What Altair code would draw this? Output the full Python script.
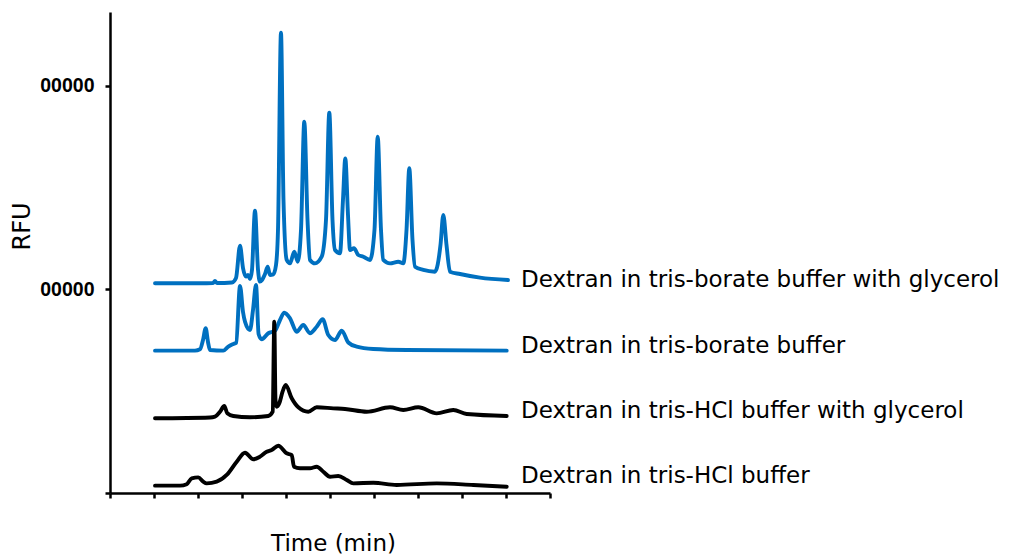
import altair as alt
import pandas as pd

# Electropherograms of dextran in four buffer systems, stacked with vertical offsets.
# time in minutes, signal in millions of RFU (offset included)

borate_gly_t = [1.023, 2.045, 2.341, 2.386, 2.432, 2.773, 2.864, 2.955, 3.023, 3.091,
                3.136, 3.182, 3.227, 3.295, 3.364, 3.409, 3.455, 3.523, 3.584, 3.636,
                3.711, 3.773, 3.818, 3.886, 3.943, 4.016, 4.091, 4.189, 4.266, 4.341,
                4.416, 4.489, 4.545, 4.659, 4.811, 4.909, 4.984, 5.057, 5.114, 5.227,
                5.295, 5.348, 5.409, 5.455, 5.545, 5.643, 5.757, 5.909, 6.011, 6.084,
                6.159, 6.211, 6.364, 6.552, 6.666, 6.739, 6.802, 6.875, 6.932, 7.120,
                7.386, 7.511, 7.575, 7.648, 7.727, 7.955, 8.409, 9.045]
borate_gly_v = [2.061, 2.061, 2.064, 2.084, 2.064, 2.069, 2.113, 2.430, 2.211, 2.126,
                2.143, 2.103, 2.192, 2.774, 2.192, 2.077, 2.093, 2.152, 2.224, 2.143,
                2.149, 2.241, 2.585, 4.524, 2.880, 2.290, 2.257, 2.372, 2.273, 2.585,
                3.649, 2.683, 2.290, 2.257, 2.322, 2.683, 3.738, 2.683, 2.388, 2.356,
                2.880, 3.289, 2.732, 2.388, 2.405, 2.339, 2.322, 2.290, 2.585, 3.502,
                2.585, 2.290, 2.257, 2.273, 2.257, 2.585, 3.191, 2.487, 2.224, 2.192,
                2.175, 2.437, 2.732, 2.437, 2.175, 2.152, 2.116, 2.093]

borate_t = [1.023, 1.932, 2.045, 2.114, 2.175, 2.227, 2.273, 2.575, 2.689, 2.802,
            2.868, 2.955, 3.023, 3.068, 3.182, 3.250, 3.318, 3.378, 3.448, 3.598,
            3.750, 3.864, 3.961, 4.091, 4.243, 4.393, 4.545, 4.698, 4.834, 4.961,
            5.114, 5.266, 5.416, 5.607, 5.984, 6.743, 9.016]
borate_v = [1.399, 1.399, 1.412, 1.504, 1.619, 1.484, 1.405, 1.399, 1.438, 1.464,
            1.477, 2.035, 1.779, 1.684, 1.602, 1.799, 2.044, 1.560, 1.511, 1.570,
            1.595, 1.700, 1.772, 1.717, 1.585, 1.651, 1.570, 1.634, 1.707, 1.553,
            1.504, 1.595, 1.479, 1.438, 1.415, 1.405, 1.399]

hcl_gly_t = [1.023, 2.273, 2.386, 2.500, 2.598, 2.666, 2.802, 3.182, 3.598, 3.698,
             3.734, 3.761, 3.789, 3.848, 3.920, 3.993, 4.130, 4.280, 4.507, 4.698,
             5.075, 5.341, 5.834, 6.364, 6.666, 7.007, 7.425, 7.802, 8.107, 9.016]
hcl_gly_v = [0.734, 0.742, 0.750, 0.799, 0.855, 0.783, 0.757, 0.744, 0.757, 0.799,
             1.684, 0.914, 0.848, 0.882, 0.993, 1.062, 0.931, 0.842, 0.799, 0.842,
             0.832, 0.826, 0.799, 0.842, 0.816, 0.842, 0.783, 0.816, 0.776, 0.757]

hcl_t = [1.023, 1.591, 1.743, 1.857, 2.007, 2.120, 2.198, 2.425, 2.652, 2.880,
         3.068, 3.257, 3.409, 3.561, 3.675, 3.825, 4.016, 4.130, 4.182, 4.318,
         4.545, 4.698, 4.848, 5.000, 5.189, 5.380, 5.530, 5.984, 6.516, 7.425,
         8.257, 9.016]
hcl_v = [0.072, 0.072, 0.086, 0.144, 0.154, 0.111, 0.095, 0.111, 0.177, 0.308,
         0.396, 0.331, 0.357, 0.406, 0.423, 0.465, 0.390, 0.373, 0.258, 0.243,
         0.243, 0.258, 0.209, 0.160, 0.167, 0.128, 0.095, 0.101, 0.079, 0.095,
         0.079, 0.062]

trace_names = ["Dextran in tris-borate buffer with glycerol",
               "Dextran in tris-borate buffer",
               "Dextran in tris-HCl buffer with glycerol",
               "Dextran in tris-HCl buffer"]
trace_colors = ["#0070C0", "#0070C0", "#000000", "#000000"]
label_t = [9.34, 9.34, 9.34, 9.34]
label_v = [2.093, 1.445, 0.806, 0.167]

series = [(borate_gly_t, borate_gly_v), (borate_t, borate_v),
          (hcl_gly_t, hcl_gly_v), (hcl_t, hcl_v)]

rows = []
for name, (ts, vs) in zip(trace_names, series):
    for i, (t, v) in enumerate(zip(ts, vs)):
        rows.append({"trace": name, "order": i, "time": t, "rfu": v})
traces = pd.DataFrame(rows)
labels = pd.DataFrame({"trace": trace_names, "time": label_t, "rfu": label_v})

TEXT_FONT = "DejaVu Sans"
TICK_FONT = "Liberation Sans"

x_scale = alt.Scale(domain=[0, 10], nice=False)
y_scale = alt.Scale(domain=[0, 4.727], nice=False, zero=True)
color_scale = alt.Scale(domain=trace_names, range=trace_colors)

lines = alt.Chart(traces).mark_line(
    strokeWidth=3.9, interpolate="monotone", strokeCap="round", strokeJoin="round"
).encode(
    x=alt.X("time:Q", scale=x_scale,
            axis=alt.Axis(title="Time (min)", values=list(range(11)), labels=False,
                          grid=False, tickSize=5, tickWidth=2.5, domainWidth=2.5,
                          domainColor="black", tickColor="black",
                          titleFont=TEXT_FONT, titleFontSize=23, titleFontWeight="normal",
                          titleColor="black", titleX=223, titleY=50,
                          titleBaseline="middle", titleAlign="center")),
    y=alt.Y("rfu:Q", scale=y_scale,
            axis=alt.Axis(title="RFU", values=[0, 2, 4],
                          labelExpr="datum.value > 0 ? '00000' : ''",
                          grid=False, tickSize=5, tickWidth=2.5, domainWidth=2.5,
                          domainColor="black", tickColor="black",
                          labelFont=TICK_FONT, labelFontSize=19.5, labelFontWeight="bold",
                          labelColor="black", labelPadding=11,
                          titleFont=TEXT_FONT, titleFontSize=24, titleFontWeight="normal",
                          titleColor="black", titleAngle=-90, titleX=-87.5, titleY=214,
                          titleBaseline="middle", titleAlign="center")),
    color=alt.Color("trace:N", scale=color_scale, legend=None),
    detail="trace:N",
    order="order:Q",
)

texts = alt.Chart(labels).mark_text(
    align="left", baseline="middle", font=TEXT_FONT, fontSize=23, color="black"
).encode(
    x=alt.X("time:Q", scale=x_scale),
    y=alt.Y("rfu:Q", scale=y_scale),
    text="trace:N",
)

chart = alt.layer(lines, texts).properties(
    width=440, height=481,
    autosize=alt.AutoSizeParams(type="none"),
    padding={"left": 110, "top": 12, "right": 472, "bottom": 63},
    background="white",
).configure_view(stroke=None)

chart.save("out.html", embed_options={"renderer": "svg", "actions": False})
